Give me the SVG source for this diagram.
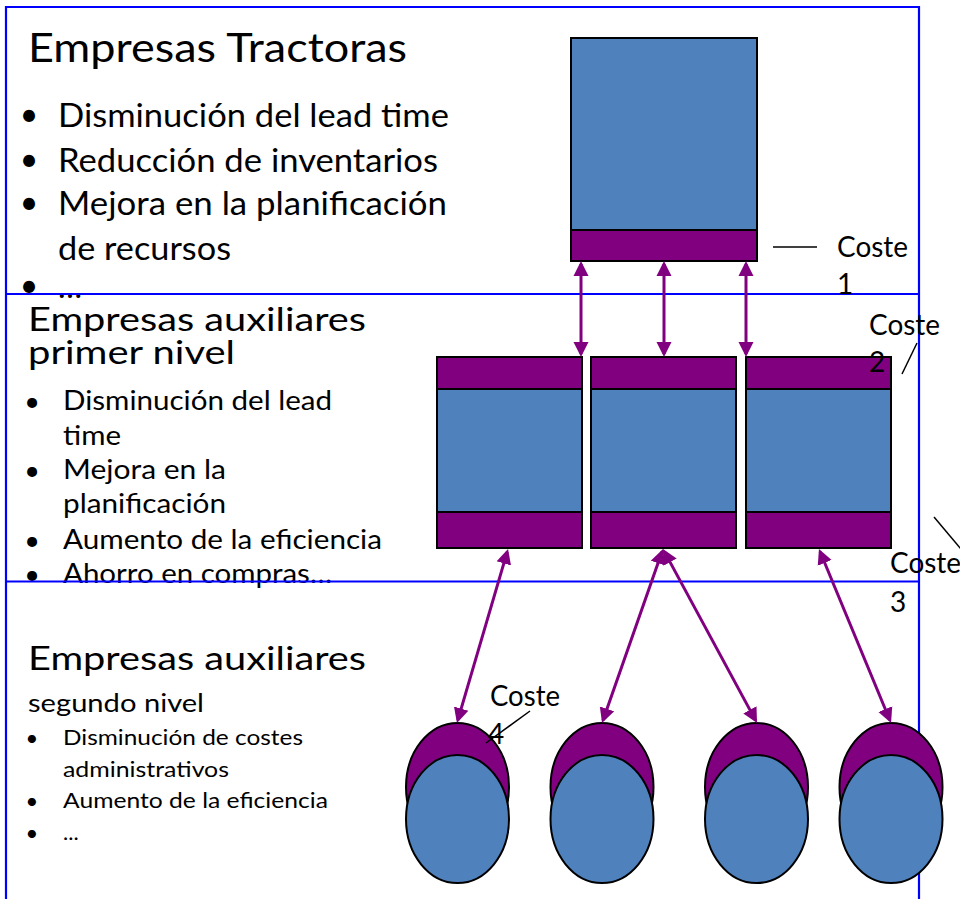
<svg xmlns="http://www.w3.org/2000/svg" width="960" height="899" viewBox="0 0 960 899">
<style>
  text { font-family: Lato, "Open Sans", "Liberation Sans", sans-serif; fill: #000; }
  .frame { stroke: #0000FF; stroke-width: 2.2; fill: none; }
  .blue { fill: #4F81BD; stroke: #000; stroke-width: 2; }
  .purple { fill: #800080; stroke: #000; stroke-width: 2; }
  .conn { stroke: #800080; stroke-width: 3; fill: none; marker-start: url(#ah); marker-end: url(#ah); }
  .lead { stroke: #000; stroke-width: 1.5; fill: none; }
  .h1 { font-size: 40px; }
  .h2 { font-size: 33px; }
  .b1 { font-size: 32px; }
  .b2 { font-size: 27px; }
  .b3 { font-size: 22px; }
  .sub { font-size: 25px; }
  .cost { font-size: 28px; }
</style>
<defs>
  <marker id="ah" markerUnits="userSpaceOnUse" markerWidth="16" markerHeight="16" viewBox="0 0 16 16" refX="12" refY="8" orient="auto-start-reverse">
    <path d="M0,0.5 L15,8 L0,15.5 z" fill="#800080"/>
  </marker>
</defs>

<g id="text-tractoras">
  <text class="h1" x="28" y="62" textLength="379" lengthAdjust="spacingAndGlyphs">Empresas Tractoras</text>
  <text class="b1" x="29" y="126" text-anchor="middle">•</text>
  <text class="b1" x="58" y="127" textLength="391" lengthAdjust="spacingAndGlyphs">Disminución del lead time</text>
  <text class="b1" x="29" y="171" text-anchor="middle">•</text>
  <text class="b1" x="58" y="172" textLength="380" lengthAdjust="spacingAndGlyphs">Reducción de inventarios</text>
  <text class="b1" x="29" y="214" text-anchor="middle">•</text>
  <text class="b1" x="58" y="215" textLength="389" lengthAdjust="spacingAndGlyphs">Mejora en la planificación</text>
  <text class="b1" x="58" y="260" textLength="173" lengthAdjust="spacingAndGlyphs">de recursos</text>
  <text class="b1" x="29" y="297" text-anchor="middle">•</text>
  <text class="b1" x="58" y="298">…</text>
</g>

<g id="text-primer">
  <text class="h2" x="28" y="331" textLength="338" lengthAdjust="spacingAndGlyphs">Empresas auxiliares</text>
  <text class="h2" x="28" y="364" textLength="207" lengthAdjust="spacingAndGlyphs">primer nivel</text>
  <text class="b2" x="32" y="411" text-anchor="middle">•</text>
  <text class="b2" x="63" y="410" textLength="269" lengthAdjust="spacingAndGlyphs">Disminución del lead</text>
  <text class="b2" x="63" y="445" textLength="58" lengthAdjust="spacingAndGlyphs">time</text>
  <text class="b2" x="32" y="480" text-anchor="middle">•</text>
  <text class="b2" x="63" y="479" textLength="163" lengthAdjust="spacingAndGlyphs">Mejora en la</text>
  <text class="b2" x="63" y="513" textLength="163" lengthAdjust="spacingAndGlyphs">planificación</text>
  <text class="b2" x="32" y="550" text-anchor="middle">•</text>
  <text class="b2" x="63" y="549" textLength="319" lengthAdjust="spacingAndGlyphs">Aumento de la eficiencia</text>
  <text class="b2" x="32" y="584" text-anchor="middle">•</text>
  <text class="b2" x="63" y="583" textLength="269" lengthAdjust="spacingAndGlyphs">Ahorro en compras…</text>
</g>

<g id="text-segundo">
  <text class="h2" x="28" y="670" textLength="338" lengthAdjust="spacingAndGlyphs">Empresas auxiliares</text>
  <text class="sub" x="28" y="712" textLength="176" lengthAdjust="spacingAndGlyphs">segundo nivel</text>
  <text class="b3" x="32" y="746" text-anchor="middle">•</text>
  <text class="b3" x="63" y="745" textLength="240" lengthAdjust="spacingAndGlyphs">Disminución de costes</text>
  <text class="b3" x="63" y="777" textLength="166" lengthAdjust="spacingAndGlyphs">administrativos</text>
  <text class="b3" x="32" y="809" text-anchor="middle">•</text>
  <text class="b3" x="63" y="808" textLength="265" lengthAdjust="spacingAndGlyphs">Aumento de la eficiencia</text>
  <text class="b3" x="32" y="841" text-anchor="middle">•</text>
  <text class="b3" x="63" y="840">...</text>
</g>

<g id="frame">
  <line class="frame" x1="6" y1="7" x2="919" y2="7"/>
  <line class="frame" x1="6" y1="6" x2="6" y2="899"/>
  <line class="frame" x1="919" y1="6" x2="919" y2="899"/>
  <line class="frame" x1="6" y1="294" x2="919" y2="294"/>
  <line class="frame" x1="6" y1="581.5" x2="919" y2="581.5"/>
</g>

<g id="tractora">
  <rect class="blue" x="571" y="38" width="186" height="192"/>
  <rect class="purple" x="571" y="230" width="186" height="31"/>
</g>

<g id="aux1-a">
  <rect class="purple" x="437" y="357" width="145" height="32"/>
  <rect class="blue" x="437" y="389" width="145" height="123"/>
  <rect class="purple" x="437" y="512" width="145" height="36"/>
</g>
<g id="aux1-b">
  <rect class="purple" x="591" y="357" width="145" height="32"/>
  <rect class="blue" x="591" y="389" width="145" height="123"/>
  <rect class="purple" x="591" y="512" width="145" height="36"/>
</g>
<g id="aux1-c">
  <rect class="purple" x="746" y="357" width="145" height="32"/>
  <rect class="blue" x="746" y="389" width="145" height="123"/>
  <rect class="purple" x="746" y="512" width="145" height="36"/>
</g>

<g id="aux2-a">
  <ellipse class="purple" cx="457.5" cy="787" rx="51.5" ry="64"/>
  <ellipse class="blue" cx="457.5" cy="819" rx="51.5" ry="64"/>
</g>
<g id="aux2-b">
  <ellipse class="purple" cx="602" cy="787" rx="51.5" ry="64"/>
  <ellipse class="blue" cx="602" cy="819" rx="51.5" ry="64"/>
</g>
<g id="aux2-c">
  <ellipse class="purple" cx="756.5" cy="787" rx="51.5" ry="64"/>
  <ellipse class="blue" cx="756.5" cy="819" rx="51.5" ry="64"/>
</g>
<g id="aux2-d">
  <ellipse class="purple" cx="891" cy="787" rx="51.5" ry="64"/>
  <ellipse class="blue" cx="891" cy="819" rx="51.5" ry="64"/>
</g>

<g id="costes">
  <line class="lead" x1="773" y1="247" x2="817" y2="247"/>
  <text class="cost" x="837" y="257" textLength="71" lengthAdjust="spacingAndGlyphs">Coste</text>
  <text class="cost" x="837" y="294">1</text>
  <line class="lead" x1="917" y1="343" x2="902" y2="374"/>
  <text class="cost" x="869" y="335" textLength="71" lengthAdjust="spacingAndGlyphs">Coste</text>
  <text class="cost" x="869" y="372">2</text>
  <line class="lead" x1="934" y1="517" x2="961" y2="549"/>
  <text class="cost" x="890" y="573" textLength="71" lengthAdjust="spacingAndGlyphs">Coste</text>
  <text class="cost" x="890" y="612">3</text>
  <line class="lead" x1="530" y1="711" x2="486" y2="743"/>
  <text class="cost" x="490" y="706" textLength="70" lengthAdjust="spacingAndGlyphs">Coste</text>
  <text class="cost" x="488" y="744">4</text>
</g>

<g id="connectors">
  <line class="conn" x1="581" y1="264" x2="581" y2="354"/>
  <line class="conn" x1="664" y1="264" x2="664" y2="354"/>
  <line class="conn" x1="746" y1="264" x2="746" y2="354"/>
  <line class="conn" x1="507.2" y1="551.9" x2="457.8" y2="720.1"/>
  <line class="conn" x1="662" y1="551.8" x2="603" y2="720.2"/>
  <line class="conn" x1="664.4" y1="551.6" x2="755.6" y2="720.4"/>
  <line class="conn" x1="820.1" y1="551.8" x2="889.9" y2="720.2"/>
</g>
</svg>
